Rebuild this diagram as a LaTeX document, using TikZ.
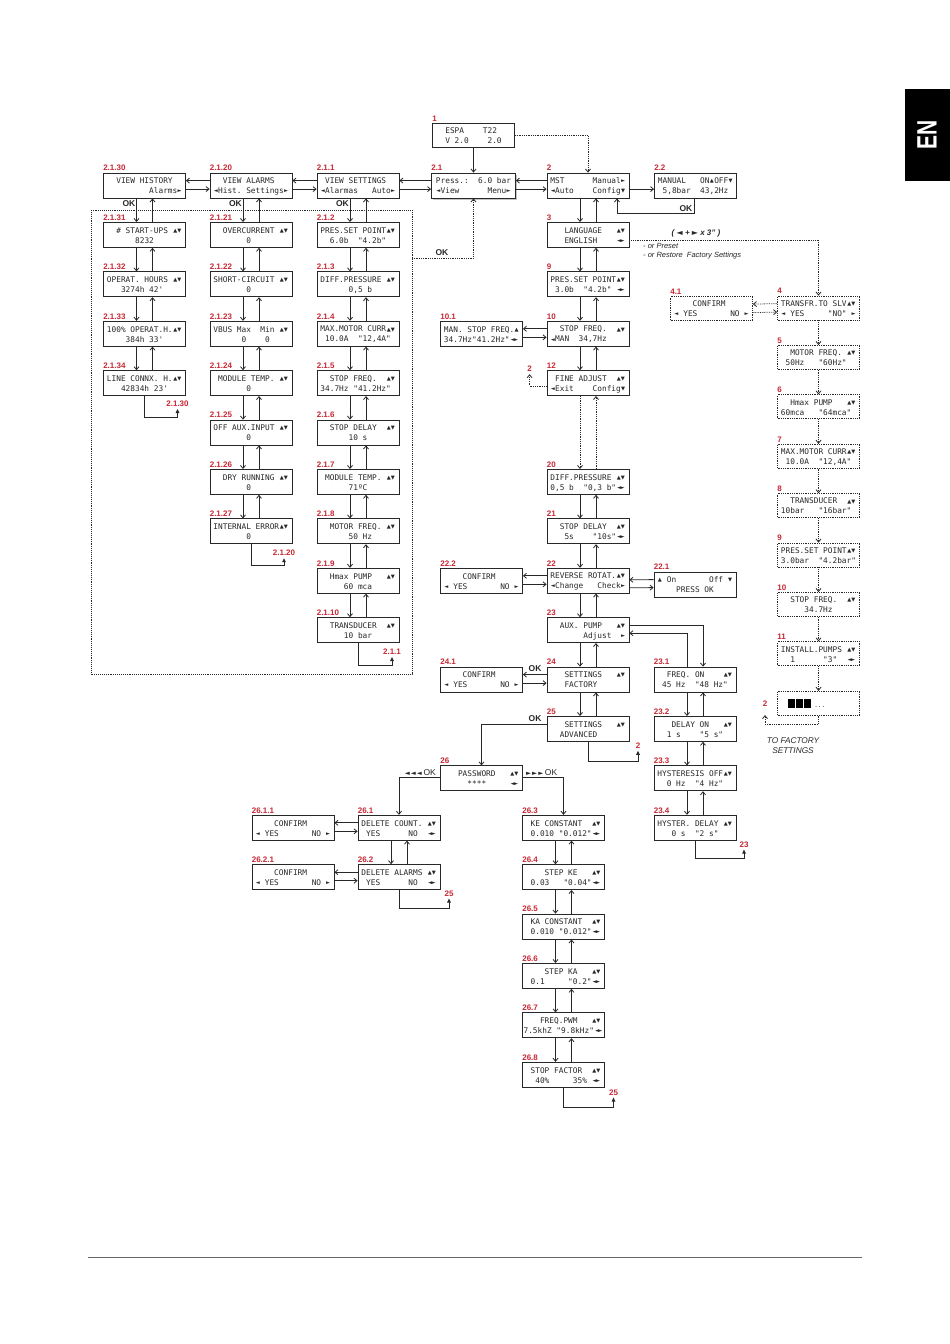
\documentclass[tikz,border=0pt]{standalone}
\usepackage{graphicx}
\usepackage{fontspec}
\setmainfont{Liberation Sans}
\newfontfamily\lcdfont{DejaVu Sans Mono}
\newfontfamily\symfont{DejaVu Sans}
\usetikzlibrary{calc,arrows.meta,shadows}
\definecolor{lblred}{RGB}{200,40,52}
\definecolor{ink}{RGB}{40,40,40}
\newlength\cw \setlength\cw{4.696pt}
\newcommand\Lcdf{\lcdfont\fontsize{7.8}{10}\selectfont}
\newcommand\Tri[1]{\raisebox{0.9pt}{\symfont\fontsize{5.2}{6}\selectfont #1}}
\newcommand\Sud{\makebox[2\cw]{\Tri{▲}\kern0.2pt\Tri{▼}}}
\newcommand\Slr{\makebox[2\cw]{\Tri{◄}\kern-0.6pt\Tri{►}}}
\newcommand\Sls{\makebox[\cw]{\Tri{◄}}}
\newcommand\Srs{\makebox[\cw]{\Tri{►}}}
\newcommand\Sus{\makebox[\cw]{\Tri{▲}}}
\newcommand\Sds{\makebox[\cw]{\Tri{▼}}}
\newcommand\Lcdl[1]{\hbox{\vrule height 7.6pt depth 1pt width 0pt\makebox[16\cw][l]{#1}}}
\newcommand\Tw[2]{{\Lcdf\vbox{\baselineskip=10pt\lineskiplimit=-20pt\lineskip=0pt\Lcdl{#1}\Lcdl{#2}}}}
\newcommand\Vp[3][arr]{\draw[#1] ($(#2.south)+(-8,0)$) -- ($(#3.north)+(-8,0)$);
  \draw[#1] ($(#3.north)+(8,0)$) -- ($(#2.south)+(8,0)$);}
\newcommand\Hp[3][arr]{\draw[#1] ($(#3.north west)+(0,8)$) -- ($(#2.north east)+(0,8)$);
  \draw[#1] ($(#2.north east)+(0,16.5)$) -- ($(#3.north west)+(0,16.5)$);}
\newcommand\Rl[5]{\draw[looparr] (#1.south) -- ++(0,#2) -- ++(#3,0) -- ++(0,-#4) node[lbl, anchor=south, yshift=2pt]{#5};}
\begin{document}
\begin{tikzpicture}[x=1pt,y=-1pt,
 lcd/.style={draw=ink, line width=0.8pt, fill=white, minimum width=82pt, minimum height=25pt, inner sep=0pt, text=ink},
 lcdd/.style={lcd, densely dotted, minimum height=24pt},
 lbl/.style={text=lblred, font=\bfseries\fontsize{8}{8}\selectfont, inner sep=0pt},
 tag/.style={label={[lbl, anchor=south west, yshift=1.5pt]north west:#1}},
 arr/.style={draw=ink, line width=0.8pt, -{Straight Barb[length=3pt,width=5pt]}},
 dotarr/.style={arr, densely dotted},
 looparr/.style={draw=ink, line width=0.8pt, -{Triangle[length=4pt,width=3.6pt]}},
 okl/.style={text=ink, font=\bfseries\fontsize{8.5}{8.5}\selectfont, inner sep=0pt},
 note/.style={text=ink, font=\itshape\fontsize{7.5}{9}\selectfont, inner sep=0pt}]
\fill[white] (0,0) rectangle (950,1344);
\useasboundingbox (0,0) rectangle (950,1344);
% EN tab
\fill[black] (905,89) rectangle (950,181);
\node[rotate=90, text=white, font=\bfseries\fontsize{28}{28}\selectfont, inner sep=0pt] (en) at (927,135) {\scalebox{0.75}[1]{EN}};
% dotted frame
\coordinate (frA) at (91,210); \coordinate (frB) at (412,674);
\draw[ink, densely dotted, line width=0.9pt] (frA) rectangle (frB);
% ---------- column A
\node[lcd,tag=2.1.30] (n2p1p30) at (144.5,185.5) {\Tw{~~VIEW~HISTORY~~}{~~~~~~~~~Alarms\Srs}};
\node[lcd,tag=2.1.31] (n2p1p31) at (144.5,234.9) {\Tw{~~\#~START-UPS~\Sud}{~~~~~~8232~~~~~~}};
\node[lcd,tag=2.1.32] (n2p1p32) at (144.5,284.3) {\Tw{OPERAT.~HOURS~\Sud}{~~~3274h~42'~~~~}};
\node[lcd,tag=2.1.33] (n2p1p33) at (144.5,333.7) {\Tw{100\%~OPERAT.H.\Sud}{~~~~384h~33'~~~~}};
\node[lcd,tag=2.1.34] (n2p1p34) at (144.5,383.1) {\Tw{LINE~CONNX.~H.\Sud}{~~~42834h~23'~~~}};
% ---------- column B
\node[lcd,tag=2.1.20] (n2p1p20) at (251,185.5) {\Tw{~~VIEW~ALARMS~~~}{\Sls Hist.~Settings\Srs}};
\node[lcd,tag=2.1.21] (n2p1p21) at (251,234.9) {\Tw{~~OVERCURRENT~\Sud}{~~~~~~~0~~~~~~~~}};
\node[lcd,tag=2.1.22] (n2p1p22) at (251,284.3) {\Tw{SHORT-CIRCUIT~\Sud}{~~~~~~~0~~~~~~~~}};
\node[lcd,tag=2.1.23] (n2p1p23) at (251,333.7) {\Tw{VBUS~Max~~Min~\Sud}{~~~~~~0~~~~0~~~~}};
\node[lcd,tag=2.1.24] (n2p1p24) at (251,383.1) {\Tw{~MODULE~TEMP.~\Sud}{~~~~~~~0~~~~~~~~}};
\node[lcd,tag=2.1.25] (n2p1p25) at (251,432.5) {\Tw{OFF~AUX.INPUT~\Sud}{~~~~~~~0~~~~~~~~}};
\node[lcd,tag=2.1.26] (n2p1p26) at (251,481.9) {\Tw{~~DRY~RUNNING~\Sud}{~~~~~~~0~~~~~~~~}};
\node[lcd,tag=2.1.27] (n2p1p27) at (251,531.3) {\Tw{INTERNAL~ERROR\Sud}{~~~~~~~0~~~~~~~~}};
% ---------- column C
\node[lcd,tag=2.1.1] (n2p1p1) at (358,185.5) {\Tw{~VIEW~SETTINGS~~}{\Sls Alarmas~~~Auto\Srs}};
\node[lcd,tag=2.1.2] (n2p1p2) at (358,234.9) {\Tw{PRES.SET~POINT\Sud}{~~6.0b~~"4.2b"~~}};
\node[lcd,tag=2.1.3] (n2p1p3) at (358,284.3) {\Tw{DIFF.PRESSURE~\Sud}{~~~~~~0,5~b~~~~~}};
\node[lcd,tag=2.1.4] (n2p1p4) at (358,333.7) {\Tw{MAX.MOTOR~CURR\Sud}{~10.0A~~"12,4A"~}};
\node[lcd,tag=2.1.5] (n2p1p5) at (358,383.1) {\Tw{~~STOP~FREQ.~~\Sud}{34.7Hz~"41.2Hz"~}};
\node[lcd,tag=2.1.6] (n2p1p6) at (358,432.5) {\Tw{~~STOP~DELAY~~\Sud}{~~~~~~10~s~~~~~~}};
\node[lcd,tag=2.1.7] (n2p1p7) at (358,481.9) {\Tw{~MODULE~TEMP.~\Sud}{~~~~~~71ºC~~~~~~}};
\node[lcd,tag=2.1.8] (n2p1p8) at (358,531.3) {\Tw{~~MOTOR~FREQ.~\Sud}{~~~~~~50~Hz~~~~~}};
\node[lcd,tag=2.1.9] (n2p1p9) at (358,580.7) {\Tw{~~Hmax~PUMP~~~\Sud}{~~~~~60~mca~~~~~}};
\node[lcd,tag=2.1.10] (n2p1p10) at (358,630.1) {\Tw{~~TRANSDUCER~~\Sud}{~~~~~10~bar~~~~~}};
% ---------- main
\node[lcd,tag=1,minimum height=24pt] (n1) at (473.5,135.5) {\Tw{~~ESPA~~~~T22~~~}{~~V~2.0~~~~2.0~~}};
\node[lcd,tag=2.1,minimum width=84pt,drop shadow={shadow xshift=1.5pt,shadow yshift=-1.5pt,fill=black!45}] (n2p1) at (473.5,185.5) {\Tw{Press.:~~6.0~bar}{\Sls View~~~~~~Menu\Srs}};
\node[lcd,tag=2] (n2) at (588,185.5) {\Tw{MST~~~~~~Manual\Srs}{\Sls Auto~~~~Config\Sds}};
\node[lcd,tag=2.2] (n2p2) at (695.5,185.5) {\Tw{MANUAL~~~ON\Sus OFF\Sds}{~5,8bar~~43,2Hz~}};
\node[lcd,tag=3] (n3) at (588,234.9) {\Tw{~~~LANGUAGE~~~\Sud}{~~~ENGLISH~~~~\Slr}};
\node[lcd,tag=9] (n9) at (588,284.3) {\Tw{PRES.SET~POINT\Sud}{~3.0b~~"4.2b"~\Slr}};
\node[lcd,tag=10] (n10) at (588,333.7) {\Tw{~~STOP~FREQ.~~\Sud}{\Sls MAN~~34,7Hz~~~~}};
\node[lcd,tag=10.1] (n10p1) at (481.5,333.7) {\Tw{MAN.~STOP~FREQ.\Sus}{34.7Hz"41.2Hz"\Slr}};
\node[lcd,tag=12] (n12) at (588,383.1) {\Tw{~FINE~ADJUST~~\Sud}{\Sls Exit~~~~Config\Sds}};
\node[lcd,tag=20] (n20) at (588,481.9) {\Tw{DIFF.PRESSURE~\Sud}{0,5~b~~"0,3~b"\Slr}};
\node[lcd,tag=21] (n21) at (588,531.3) {\Tw{~~STOP~DELAY~~\Sud}{~~~5s~~~~"10s"\Slr}};
\node[lcd,tag=22] (n22) at (588,580.7) {\Tw{REVERSE~ROTAT.\Sud}{\Sls Change~~~Check\Srs}};
\node[lcd,tag=22.2] (n22p2) at (481.5,580.7) {\Tw{~~~~CONFIRM~~~~~}{\Sls~YES~~~~~~~NO~\Srs}};
\node[lcd,tag=22.1] (n22p1) at (695,584.5) {\Tw{\Sus~On~~~~~~~Off~\Sds}{~~~~PRESS~OK~~~~}};
\node[lcd,tag=23] (n23) at (588,630.1) {\Tw{~~AUX.~PUMP~~~\Sud}{~~~~~~~Adjust~~\Srs}};
\node[lcd,tag=24] (n24) at (588,679.5) {\Tw{~~~SETTINGS~~~\Sud}{~~~FACTORY~~~~~~}};
\node[lcd,tag=24.1] (n24p1) at (481.5,679.5) {\Tw{~~~~CONFIRM~~~~~}{\Sls~YES~~~~~~~NO~\Srs}};
\node[lcd,tag=25] (n25) at (588,728.9) {\Tw{~~~SETTINGS~~~\Sud}{~~ADVANCED~~~~~~}};
\node[lcd,tag=23.1] (n23p1) at (695,679.5) {\Tw{~~FREQ.~ON~~~~\Sud}{~45~Hz~~"48~Hz"~}};
\node[lcd,tag=23.2] (n23p2) at (695,728.9) {\Tw{~~~DELAY~ON~~~\Sud}{~~1~s~~~~"5~s"~~}};
\node[lcd,tag=23.3] (n23p3) at (695,778.3) {\Tw{HYSTERESIS~OFF\Sud}{~~0~Hz~~"4~Hz"~~}};
\node[lcd,tag=23.4] (n23p4) at (695,827.7) {\Tw{HYSTER.~DELAY~\Sud}{~~~0~s~~"2~s"~~~}};
% ---------- password branch
\node[lcd,tag=26] (n26) at (481.5,778.3) {\Tw{~~~PASSWORD~~~\Sud}{~~~~~****~~~~~\Slr}};
\node[lcd,tag=26.1] (n26p1) at (399,827.7) {\Tw{DELETE~COUNT.~\Sud}{~YES~~~~~~NO~~\Slr}};
\node[lcd,tag=26.2] (n26p2) at (399,877.1) {\Tw{DELETE~ALARMS~\Sud}{~YES~~~~~~NO~~\Slr}};
\node[lcd,tag=26.1.1] (n26p1p1) at (293,827.7) {\Tw{~~~~CONFIRM~~~~~}{\Sls~YES~~~~~~~NO~\Srs}};
\node[lcd,tag=26.2.1] (n26p2p1) at (293,877.1) {\Tw{~~~~CONFIRM~~~~~}{\Sls~YES~~~~~~~NO~\Srs}};
\node[lcd,tag=26.3] (n26p3) at (563.5,827.7) {\Tw{~KE~CONSTANT~~\Sud}{~0.010~"0.012"\Slr}};
\node[lcd,tag=26.4] (n26p4) at (563.5,877.1) {\Tw{~~~~STEP~KE~~~\Sud}{~0.03~~~"0.04"\Slr}};
\node[lcd,tag=26.5] (n26p5) at (563.5,926.5) {\Tw{~KA~CONSTANT~~\Sud}{~0.010~"0.012"\Slr}};
\node[lcd,tag=26.6] (n26p6) at (563.5,975.9) {\Tw{~~~~STEP~KA~~~\Sud}{~0.1~~~~~"0.2"\Slr}};
\node[lcd,tag=26.7] (n26p7) at (563.5,1025.3) {\Tw{~~~FREQ.PWM~~~\Sud}{\hspace*{-0.5\cw}7.5khZ~"9.8kHz"\Slr}};
\node[lcd,tag=26.8] (n26p8) at (563.5,1074.7) {\Tw{~STOP~FACTOR~~\Sud}{~~40\%~~~~~35\%~\Slr}};
% ---------- right column (dotted)
\node[lcdd,tag=4] (r4) at (818.5,308) {\Tw{TRANSFR.TO~SLV\Sud}{\Sls~YES~~~~~"NO"~\Srs}};
\node[lcdd,tag=4.1] (n4p1) at (711.5,308.5) {\Tw{~~~~CONFIRM~~~~~}{\Sls~YES~~~~~~~NO~\Srs}};
\node[lcdd,tag=5] (r5) at (818.5,357.4) {\Tw{~~MOTOR~FREQ.~\Sud}{~50Hz~~~"60Hz"~~}};
\node[lcdd,tag=6] (r6) at (818.5,406.8) {\Tw{~~Hmax~PUMP~~~\Sud}{60mca~~~"64mca"~}};
\node[lcdd,tag=7] (r7) at (818.5,456.2) {\Tw{MAX.MOTOR~CURR\Sud}{~10.0A~~"12,4A"~}};
\node[lcdd,tag=8] (r8) at (818.5,505.6) {\Tw{~~TRANSDUCER~~\Sud}{10bar~~~"16bar"~}};
\node[lcdd,tag=9] (r9) at (818.5,555) {\Tw{PRES.SET~POINT\Sud}{3.0bar~~"4.2bar"}};
\node[lcdd,tag=10] (r10) at (818.5,604.4) {\Tw{~~STOP~FREQ.~~\Sud}{~~~~~34.7Hz~~~~~}};
\node[lcdd,tag=11] (r11) at (818.5,653.8) {\Tw{INSTALL.PUMPS~\Sud}{~~1~~~~~~"3"~~\Slr}};
\node[lcdd] (r12) at (818.5,703.2) {};
\node[anchor=west, inner sep=0pt, text=black] (blk) at ($(r12.west)+(11,0)$) {\rule{7pt}{9pt}\kern1pt\rule{7pt}{9pt}\kern1pt\rule{7pt}{9pt}\kern3pt{\Lcdf\fontsize{6}{6}\selectfont\color{ink}...}};
% ---------- horizontal connectors
\Hp{n2p1p30}{n2p1p20}
\Hp{n2p1p20}{n2p1p1}
\Hp{n2p1p1}{n2p1}
\Hp{n2p1}{n2}
\draw[arr] ($(n2.north east)+(0,16.5)$) -- ($(n2p2.north west)+(0,16.5)$);
\Hp{n10p1}{n10}
\Hp{n22p2}{n22}
\draw[arr] ($(n22p1.north west)+(0,8)$) -- ($(n22.north east)+(0,12)$);
\draw[arr] ($(n22.north east)+(0,20)$) -- ($(n22p1.north west)+(0,16)$);
\Hp{n24p1}{n24}
\Hp{n26p1p1}{n26p1}
\Hp{n26p2p1}{n26p2}
\Hp[dotarr]{n4p1}{r4}
% ---------- vertical connectors
\Vp{n2p1p30}{n2p1p31} \Vp{n2p1p31}{n2p1p32} \Vp{n2p1p32}{n2p1p33} \Vp{n2p1p33}{n2p1p34}
\Vp{n2p1p20}{n2p1p21} \Vp{n2p1p21}{n2p1p22} \Vp{n2p1p22}{n2p1p23} \Vp{n2p1p23}{n2p1p24}
\Vp{n2p1p24}{n2p1p25} \Vp{n2p1p25}{n2p1p26} \Vp{n2p1p26}{n2p1p27}
\Vp{n2p1p1}{n2p1p2} \Vp{n2p1p2}{n2p1p3} \Vp{n2p1p3}{n2p1p4} \Vp{n2p1p4}{n2p1p5} \Vp{n2p1p5}{n2p1p6}
\Vp{n2p1p6}{n2p1p7} \Vp{n2p1p7}{n2p1p8} \Vp{n2p1p8}{n2p1p9} \Vp{n2p1p9}{n2p1p10}
\Vp{n2}{n3} \Vp{n3}{n9} \Vp{n9}{n10} \Vp{n10}{n12} \Vp[dotarr]{n12}{n20}
\Vp{n20}{n21} \Vp{n21}{n22} \Vp{n22}{n23} \Vp{n23}{n24} \Vp{n24}{n25}
\Vp{n23p1}{n23p2} \Vp{n23p2}{n23p3} \Vp{n23p3}{n23p4}
\Vp{n26p1}{n26p2}
\Vp{n26p3}{n26p4} \Vp{n26p4}{n26p5} \Vp{n26p5}{n26p6} \Vp{n26p6}{n26p7} \Vp{n26p7}{n26p8}
\draw[arr] (n1.south) -- (n2p1.north);
\draw[dotarr] (n1.east) -| (n2.north);
\foreach \a/\b in {r4/r5,r5/r6,r6/r7,r7/r8,r8/r9,r9/r10,r10/r11,r11/r12}
  \draw[dotarr] (\a.south) -- (\b.north);
% OK labels row 0
\node[okl, anchor=north east] (okA) at ($(n2p1p30.south)+(-9,2)$) {OK};
\node[okl, anchor=north east] (okB) at ($(n2p1p20.south)+(-9,2)$) {OK};
\node[okl, anchor=north east] (okC) at ($(n2p1p1.south)+(-9,2)$) {OK};
% 2.2 return
\draw[arr] ($(n2p2.south)+(-1.5,0)$) -- ++(0,15) -| ($(n2.south)+(29,0)$);
\node[okl, anchor=east] (ok22) at ($(n2p2.south)+(-3,10)$) {OK};
% dotted OK from frame
\coordinate (okS) at (412,258);
\draw[dotarr] (okS) -| (n2p1.south);
\node[okl, anchor=south] (okF) at (442,256) {OK};
% language dotted to 4
\draw[dotarr] ($(n3.north east)+(0,18)$) -| (r4.north);
\node[text=ink, inner sep=0pt, font=\bfseries\itshape\fontsize{8}{8}\selectfont] (keys) at (696,233.5) {( {\symfont\fontsize{8}{8}\selectfont ◄} + {\symfont\fontsize{8}{8}\selectfont ►} x 3" )};
\node[note, anchor=west] (pre) at (643,246) {- or Preset};
\node[note, anchor=west] (rest) at (643,256) {- or Restore~ Factory Settings};
% 12 -> 2
\draw[dotarr] ($(n12.north west)+(0,16)$) -- ++(-17,0) -- ++(0,-12) node[lbl, anchor=south, yshift=2.5pt] {2};
% 23 <-> 23.1
\draw[arr] ($(n23.north east)+(0,8)$) -| ($(n23p1.north)+(8,0)$);
\draw[arr] ($(n23p1.north)+(-8,0)$) |- ($(n23.north east)+(0,16)$);
% 24 -> 24.1 OK, 25 -> 26
\node[okl, anchor=south east] (ok24) at ($(n24.north west)+(-5,5)$) {OK};
\draw[arr] ($(n25.north west)+(0,8)$) -| (n26.north);
\node[okl, anchor=south east] (ok25) at ($(n25.north west)+(-5,6)$) {OK};
% 26 branches
\draw[arr] ($(n26.north west)+(0,12)$) -| (n26p1.north);
\draw[arr] ($(n26.north east)+(0,12)$) -| (n26p3.north);
\node[text=ink, inner sep=0pt, anchor=south east] (okL) at ($(n26.north west)+(-4,10)$) {{\symfont\fontsize{6.5}{6.5}\selectfont ◄\,◄\,◄}\,{\fontsize{8.5}{8.5}\selectfont OK}};
\node[text=ink, inner sep=0pt, anchor=south west] (okR) at ($(n26.north east)+(3,10)$) {{\symfont\fontsize{6.5}{6.5}\selectfont ►\,►\,►}\,{\fontsize{8.5}{8.5}\selectfont OK}};
% return loops
\Rl{n2p1p34}{21}{33}{8}{2.1.30}
\Rl{n2p1p27}{21.5}{33}{7.5}{2.1.20}
\Rl{n2p1p10}{22}{34}{8}{2.1.1}
\Rl{n25}{20}{50}{11}{2}
\Rl{n26p2}{18.5}{50}{10}{25}
\Rl{n23p4}{18}{49}{9}{23}
\Rl{n26p8}{20}{50}{10}{25}
% factory-settings return
\draw[dotarr] (r12.south) -- ++(0,8.5) -| ++(-53.5,-9) node[lbl, anchor=south, yshift=8pt] {2};
\node[text=ink, inner sep=0pt, align=center, font=\itshape\fontsize{8.3}{10}\selectfont] (tofs) at (793,745.5) {TO FACTORY\\SETTINGS};
% bottom rule
\draw[black!60, line width=0.6pt] (88,1257) -- (862,1257);
\end{tikzpicture}
\end{document}
